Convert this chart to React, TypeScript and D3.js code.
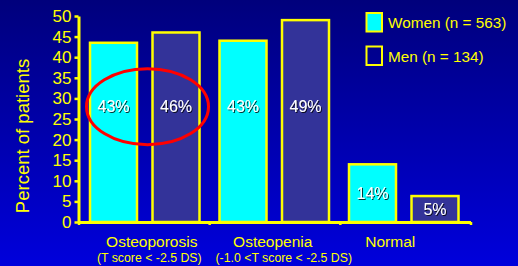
import React, { useRef, useEffect } from "react";
import * as d3 from "d3";

const categories = ["Osteoporosis", "Osteopenia", "Normal"];
const subtitles = ["(T score < -2.5 DS)", "(-1.0 <T score < -2.5 DS)", ""];
const series = ["Women", "Men"];
const seriesLegend = ["Women (n = 563)", "Men (n = 134)"];
const womenValues = [43.5, 44, 14];
const menValues = [46, 49, 6.3];
const womenLabels = ["43%", "43%", "14%"];
const menLabels = ["46%", "49%", "5%"];
const yTicks = [0, 5, 10, 15, 20, 25, 30, 35, 40, 45, 50];

// little hand nudges the slide used for the category captions
const captionShift = [8.5, 0, -12];
const subtitleShift = [-2.5, 11, 0];

const W = 518;
const H = 266;

const App: React.FC = () => {
  const ref = useRef<SVGSVGElement | null>(null);

  useEffect(() => {
    const svg = d3.select(ref.current).attr("width", W).attr("height", H);
    svg.selectAll("*").remove();

    const defs = svg.append("defs");
    const grad = defs
      .append("linearGradient")
      .attr("id", "bg")
      .attr("x1", 0)
      .attr("y1", 0)
      .attr("x2", 0)
      .attr("y2", 1);
    grad.append("stop").attr("offset", "0%").attr("stop-color", "#00007c");
    grad.append("stop").attr("offset", "100%").attr("stop-color", "#0000dc");

    const shadow = defs.append("filter").attr("id", "shadow");
    shadow
      .append("feDropShadow")
      .attr("dx", 1)
      .attr("dy", 1)
      .attr("stdDeviation", 0.4)
      .attr("flood-color", "#000000")
      .attr("flood-opacity", 0.8);

    svg.append("rect").attr("width", W).attr("height", H).attr("fill", "url(#bg)");

    const x0 = 78.5;
    const x1 = 470.5;
    const yScale = d3.scaleLinear().domain([0, 50]).range([222, 16]);
    const xBand = d3.scaleBand<string>().domain(categories).range([x0, 467]).padding(0);
    const inner = d3
      .scaleBand<string>()
      .domain(series)
      .range([11.5, 121])
      .paddingInner(0.248)
      .paddingOuter(0);

    const rows = categories.map((c, i) => ({
      cat: c,
      vals: [womenValues[i], menValues[i]],
      labels: [womenLabels[i], menLabels[i]],
    }));
    const fills = ["#00ffff", "#333399"];

    const g = svg.append("g");
    rows.forEach((r) => {
      r.vals.forEach((v, j) => {
        const bx = (xBand(r.cat) as number) + (inner(series[j]) as number);
        const bw = inner.bandwidth();
        g.append("rect")
          .attr("x", bx)
          .attr("y", yScale(v))
          .attr("width", bw)
          .attr("height", yScale(0) - yScale(v))
          .attr("fill", fills[j])
          .attr("stroke", "#ffff00")
          .attr("stroke-width", 2.5);
        const ly = v > 20 ? yScale(28) : (yScale(v) + yScale(0)) / 2;
        g.append("text")
          .attr("x", bx + bw / 2)
          .attr("y", ly)
          .attr("dy", "0.36em")
          .attr("text-anchor", "middle")
          .attr("fill", "#ffffff")
          .attr("filter", "url(#shadow)")
          .style("font-family", "Liberation Sans, Arial, sans-serif")
          .style("font-size", "16px")
          .text(r.labels[j]);
      });
    });

    // axes
    const axisY = svg.append("g").attr("transform", `translate(${x0},0)`);
    axisY
      .call(d3.axisLeft(yScale).tickValues(yTicks).tickSize(4).tickPadding(3).tickSizeOuter(0))
      .call((a) => a.select(".domain").attr("stroke", "#ffff00").attr("stroke-width", 3))
      .call((a) => a.selectAll(".tick line").attr("stroke", "#ffff00").attr("stroke-width", 2.5))
      .call((a) =>
        a
          .selectAll(".tick text")
          .attr("fill", "#ffff00")
          .style("font-family", "Liberation Sans, Arial, sans-serif")
          .style("font-size", "17px")
      );

    const axisX = svg.append("g").attr("transform", `translate(0,${yScale(0)})`);
    axisX
      .call(
        d3
          .axisBottom(d3.scaleLinear().domain([0, 3]).range([x0, x1]))
          .tickValues([0, 1, 2, 3])
          .tickFormat(() => "")
          .tickSize(3)
          .tickSizeOuter(0)
      )
      .call((a) => a.select(".domain").attr("stroke", "#ffff00").attr("stroke-width", 3))
      .call((a) => a.selectAll(".tick line").attr("stroke", "#ffff00").attr("stroke-width", 2.5));

    // category captions
    categories.forEach((c, i) => {
      const cx = (xBand(c) as number) + xBand.bandwidth() / 2 + captionShift[i];
      svg
        .append("text")
        .attr("x", cx)
        .attr("y", 241)
        .attr("dy", "0.36em")
        .attr("text-anchor", "middle")
        .attr("fill", "#ffff00")
        .style("font-family", "Liberation Sans, Arial, sans-serif")
        .style("font-size", "15.5px")
        .text(c);
      if (subtitles[i]) {
        svg
          .append("text")
          .attr("x", cx + subtitleShift[i])
          .attr("y", 258)
          .attr("dy", "0.36em")
          .attr("text-anchor", "middle")
          .attr("fill", "#ffff00")
          .style("font-family", "Liberation Sans, Arial, sans-serif")
          .style("font-size", "12.3px")
          .text(subtitles[i]);
      }
    });

    // y title
    svg
      .append("text")
      .attr("transform", `translate(22,${136}) rotate(-90)`)
      .attr("dy", "0.36em")
      .attr("text-anchor", "middle")
      .attr("fill", "#ffff00")
      .style("font-family", "Liberation Sans, Arial, sans-serif")
      .style("font-size", "18.5px")
      .text("Percent of patients");

    // legend
    const legendFill = ["#00ffff", "none"];
    seriesLegend.forEach((t, i) => {
      const ly = 13 + i * 33.5;
      svg
        .append("rect")
        .attr("x", 366.5)
        .attr("y", ly)
        .attr("width", 15.5)
        .attr("height", 18.5)
        .attr("fill", legendFill[i])
        .attr("stroke", "#ffff00")
        .attr("stroke-width", 2);
      svg
        .append("text")
        .attr("x", 388)
        .attr("y", ly + 9.5)
        .attr("dy", "0.36em")
        .attr("fill", "#ffff00")
        .style("font-family", "Liberation Sans, Arial, sans-serif")
        .style("font-size", "15.3px")
        .text(t);
    });

    // red highlight ring round the osteoporosis pair
    const oc = (xBand(categories[0]) as number) + 69;
    svg
      .append("ellipse")
      .attr("cx", oc)
      .attr("cy", yScale(28))
      .attr("rx", 61)
      .attr("ry", 38)
      .attr("fill", "none")
      .attr("stroke", "#ff0000")
      .attr("stroke-width", 3);
  }, []);

  return (
    <svg
      ref={ref}
      style={{ position: "absolute", left: 0, top: 0, display: "block" }}
    ></svg>
  );
};

export default App;
